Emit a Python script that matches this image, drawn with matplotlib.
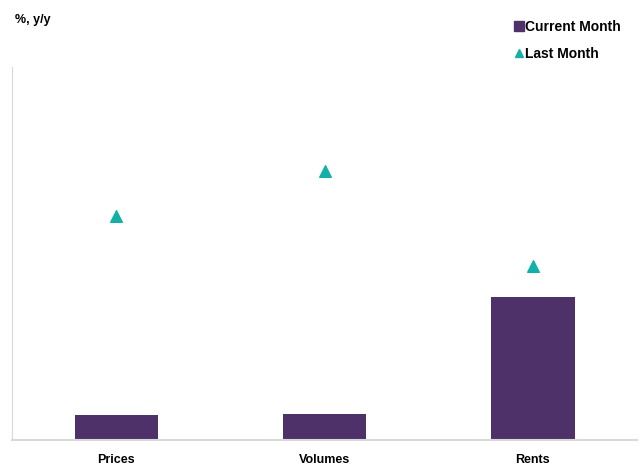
import matplotlib.pyplot as plt
from matplotlib.lines import Line2D

plt.rcParams['font.family'] = ['Liberation Sans', 'DejaVu Sans']

categories = ['Prices', 'Volumes', 'Rents']
current_month = [1.0, 1.05, 5.75]
last_month = [9.0, 10.8, 7.0]

purple = '#4e3168'
teal = '#13b0a8'

fig = plt.figure(figsize=(6.41, 4.66), dpi=100)
ax = fig.add_axes([12 / 641, 26 / 466, 625 / 641, 373 / 466])

x = range(len(categories))
ax.bar(x, current_month, width=0.40, color=purple, zorder=2)
ax.scatter(x, last_month, marker='^', s=70, color=teal, zorder=3)

ax.set_xlim(-0.5, 2.5)
ax.set_ylim(0, 15)
ax.set_xticks(list(x))
ax.set_xticklabels(categories, fontsize=9, fontweight='bold')
ax.tick_params(axis='x', length=0, pad=10)
ax.set_yticks([0, 5, 10, 15])
ax.tick_params(axis='y', length=0, labelleft=False)

# Light grey axis lines, no box
for side in ['top', 'right']:
  ax.spines[side].set_visible(False)
ax.spines['left'].set_color('#d9d9d9')
ax.spines['bottom'].set_color('#d9d9d9')
ax.spines['bottom'].set_linewidth(1.5)

fig.text(15 / 641, 1 - 20 / 466, '%, y/y', fontsize=9, fontweight='bold', va='center')

# Legend
handles = [
  Line2D([], [], marker='s', color=purple, linestyle='none', markersize=6.5),
  Line2D([], [], marker='^', color=teal, linestyle='none', markersize=6),
]
fig.legend(handles, ['Current Month', 'Last Month'], loc='upper left',
           bbox_to_anchor=(509 / 641, 1 - 14 / 466), frameon=False,
           prop={'size': 10, 'weight': 'bold'}, handlelength=0.6,
           handletextpad=0.15, labelspacing=0.95, borderaxespad=0)

fig.savefig('out.png', dpi=100)
